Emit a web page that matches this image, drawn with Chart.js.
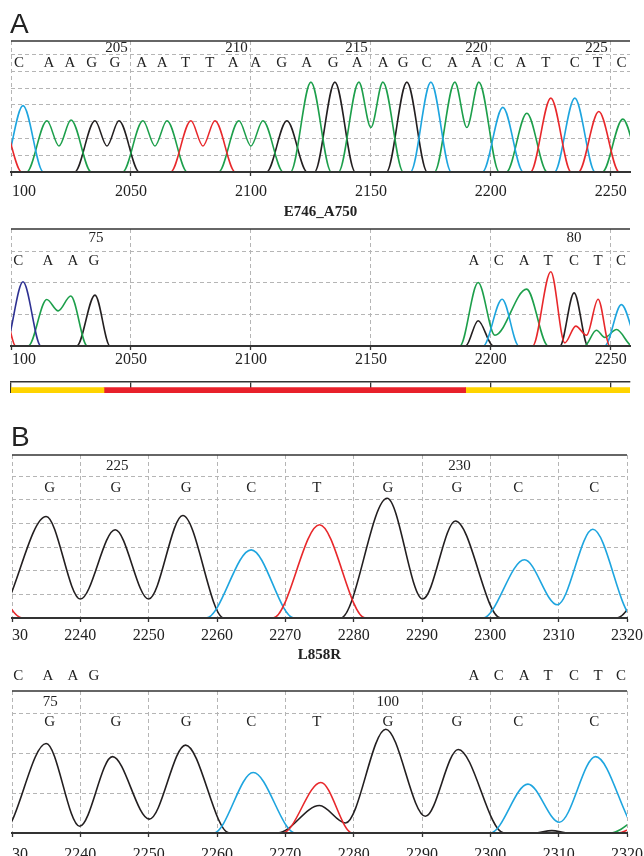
<!DOCTYPE html>
<html>
<head>
<meta charset="utf-8">
<script src="https://cdn.jsdelivr.net/npm/chart.js@4.4.1/dist/chart.umd.min.js"></script>
<style>
  body { margin: 0; background: #fff; width: 644px; height: 856px; position: relative; overflow: hidden; }
  .box { position: absolute; left: 0; width: 644px; }
</style>
</head>
<body>
<div class="box" style="top:0;height:222px"><canvas id="chartA1"></canvas></div>
<div class="box" style="top:222px;height:150px"><canvas id="chartA2"></canvas></div>
<div class="box" style="top:376px;height:20px"><canvas id="chartBar"></canvas></div>
<div class="box" style="top:418px;height:248px"><canvas id="chartB1"></canvas></div>
<div class="box" style="top:666px;height:190px"><canvas id="chartB2"></canvas></div>
<script>
// trace colours: A green, C blue, G black, T red
const GREEN = '#1d9f4b', BLUE = '#1ea5df', BLACK = '#231f20', RED = '#e8282b', NAVY = '#2e3192';

const aTickLabels = ['100', '2050', '2100', '2150', '2200', '2250'];
const bTickLabels = ['2230', '2240', '2250', '2260', '2270', '2280', '2290', '2300', '2310', '2320'];

// panel A, wild type read
const a1Bases = ['C','A','A','G','G','A','A','T','T','A','A','G','A','G','A','A','G','C','A','A','C','A','T','C','T','C'];
const a1BasePos = [2003.3, 2015.8, 2024.6, 2033.6, 2043.3, 2054.5, 2063, 2072.8, 2082.9, 2092.6, 2102, 2112.8, 2123.2,
                   2134.3, 2144.3, 2155.1, 2163.5, 2173.2, 2184, 2194, 2203.3, 2212.5, 2222.9, 2235, 2244.5, 2254.5];
const a1Numbers = ['205', '210', '215', '220', '225'];
const a1NumberPos = [2044, 2094, 2144, 2194, 2244];
const a1Red = [[1980,0],[1996,3.05],[2004.5,0],[2066.5,0],[2075,3.05],[2080,1.55],[2085,3.05],[2093.5,0],
               [2216.5,0],[2225,4.4],[2233.5,0],[2236.5,0],[2245,3.6],[2253.5,0],[2270,0]];
const a1Blue = [[1985,0],[1996.5,0],[2005,3.95],[2013.5,0],[2166.5,0],[2175,5.35],[2183.5,0],[2196.5,0],
                [2205,3.85],[2213.5,0],[2226.5,0],[2235,4.4],[2243.5,0],[2270,0]];
const a1Green = [[1985,0],[2006.5,0],[2015,3.05],[2020,1.55],[2025,3.1],[2033.5,0],[2046.5,0],[2055,3.05],
                 [2060,1.55],[2065,3.05],[2073.5,0],[2086.5,0],[2095,3.05],[2100,1.55],[2105,3.05],[2113.5,0],
                 [2116.5,0],[2125,5.35],[2133.5,0],[2136.5,0],[2145,5.35],[2150,2.65],[2155,5.35],[2163.5,0],
                 [2176.5,0],[2185,5.35],[2190,2.65],[2195,5.35],[2203.5,0],[2206.5,0],[2215,3.5],[2223.5,0],
                 [2246.5,0],[2255,3.15],[2263.5,0],[2270,0]];
const a1Black = [[1985,0],[2026.5,0],[2035,3.05],[2040,1.55],[2045,3.05],[2053.5,0],[2106.5,0],[2115,3.05],
                 [2123.5,0],[2126.5,0],[2135,5.35],[2143.5,0],[2156.5,0],[2165,5.35],[2173.5,0],[2270,0]];

// panel A, E746_A750 deletion read
const a2Bases = ['C','A','A','G','A','C','A','T','C','T','C'];
const a2BasePos = [2003, 2015.4, 2025.8, 2034.6, 2192.9, 2203.3, 2213.9, 2223.9, 2234.7, 2244.7, 2254.2];
const a2Numbers = ['75', '80'];
const a2NumberPos = [2035.4, 2234.7];
const a2Red = [[1985,0],[1996.5,1.3],[2002,0],[2217.4,0],[2225,2.35],[2230.8,0.1],[2235.4,0.63],[2239.9,0.34],
               [2244.7,1.48],[2249.6,0],[2270,0]];
const a2Navy = [[1985,0],[1997.5,0],[2005,2.03],[2012.5,0],[2270,0]];
const a2Green = [[1985,0],[2007.2,0],[2014.9,1.47],[2019.7,1.11],[2024.9,1.58],[2031.8,0],[2187.1,0],[2194.7,2.01],
                 [2201.7,0.34],[2214.9,1.8],[2223.9,0],[2239,0],[2244,0.5],[2247.5,0.27],[2252.4,0.52],[2259,0],[2270,0]];
const a2Black = [[1985,0],[2027.4,0],[2035,1.61],[2041.3,0],[2189.5,0],[2194.7,0.8],[2201,0],[2228.8,0],
                 [2234.7,1.68],[2240.5,0],[2270,0]];
const a2Blue = [[2185,0],[2196.8,0],[2204.7,1.48],[2211.7,0],[2247.5,0],[2254.4,1.31],[2262,0],[2270,0]];

// deleted region bar
const barSegments = [[2000, 2038.75], [2038.75, 2189.5], [2189.5, 2258]];
const barColors = ['#ffd400', '#e8202a', '#ffd400'];

// panel B, L858R
const bBases = ['G','G','G','C','T','G','G','C','C'];
const bBasePos = [2235.5, 2245.2, 2255.5, 2265, 2274.6, 2285, 2295.1, 2304.1, 2315.2];
const b1Numbers = ['225', '230'];
const b1NumberPos = [2245.4, 2295.5];
const b1Red = [[2215,0],[2225,2.5],[2231.5,0],[2268.2,0],[2275,3.94],[2281.7,0],[2330,0]];
const b1Black = [[2215,0],[2227.5,0],[2235,4.29],[2240,0.8],[2245.1,3.73],[2250,0.8],[2255,4.33],[2261,0],
                 [2278.1,0],[2284.9,5.06],[2290.1,0.8],[2294.9,4.1],[2301.5,0],[2318.5,0],[2325,2.5],[2330,0]];
const b1Blue = [[2240,0],[2258.4,0],[2265,2.88],[2271.3,0],[2298.9,0],[2305,2.46],[2309.8,0.56],[2315,3.75],
                [2321,0],[2330,0]];

const b2Numbers = ['75', '100'];
const b2NumberPos = [2235.6, 2285];
const b2Black = [[2215,0],[2228.5,0],[2235,2.25],[2239.9,0.17],[2244.7,1.92],[2250.1,0.35],[2255.4,2.21],[2261.8,0],
                 [2268.9,0],[2275,0.69],[2278.8,0.25],[2284.7,2.61],[2290.5,0.42],[2295.3,2.1],[2302,0],
                 [2306.4,0],[2309,0.06],[2311.5,0],[2330,0]];
const b2Blue = [[2240,0],[2259.5,0],[2265.3,1.52],[2271.5,0],[2300,0],[2305.5,1.23],[2310.1,0.27],[2315.4,1.92],
                [2322,0],[2330,0]];
const b2Red = [[2250,0],[2269.6,0],[2275.2,1.27],[2279.8,0],[2318.6,0],[2324,0.4],[2330,0]];
const b2Green = [[2300,0],[2317.5,0],[2324,0.6],[2330,0]];

const SERIF = '"Liberation Serif", "DejaVu Serif", serif';

function textPlugin(cfg) {
    return {
        id: 'seqText',
        afterDraw(chart) {
            const { ctx, chartArea: area, scales: { x, y } } = chart;
            ctx.save();
            // solid frame line on top
            ctx.strokeStyle = '#333';
            ctx.lineWidth = 1.5;
            ctx.beginPath();
            ctx.moveTo(area.left, area.top);
            ctx.lineTo(area.right, area.top);
            ctx.stroke();

            ctx.fillStyle = '#222';
            ctx.textAlign = 'center';
            ctx.textBaseline = 'middle';
            ctx.font = '15px ' + SERIF;
            cfg.bases.forEach((b, i) => ctx.fillText(b, x.getPixelForValue(cfg.basePos[i]), y.getPixelForValue(cfg.baseY)));
            cfg.numbers.forEach((n, i) => ctx.fillText(n, x.getPixelForValue(cfg.numberPos[i]), y.getPixelForValue(cfg.numberY)));

            // letters of the other read, above the frame
            if (cfg.extra) {
                const ex = cfg.extra.chart.scales.x;
                cfg.extra.bases.forEach((b, i) => ctx.fillText(b, ex.getPixelForValue(cfg.extra.pos[i]), y.getPixelForValue(cfg.extra.y)));
            }

            // tick labels, cut at the left edge of the plot
            ctx.save();
            ctx.beginPath();
            ctx.rect(area.left, 0, chart.width, chart.height);
            ctx.clip();
            ctx.font = '16px ' + SERIF;
            x.ticks.forEach((t, i) => {
                const px = x.getPixelForValue(t.value);
                ctx.textAlign = (i === 0 && cfg.firstLeft) ? 'left' : 'center';
                ctx.fillText(cfg.tickLabels[i], i === 0 && cfg.firstLeft ? px + 1 : px, area.bottom + cfg.tickOffset);
            });
            ctx.restore();

            if (cfg.title) {
                ctx.font = 'bold 15px ' + SERIF;
                ctx.textAlign = 'center';
                ctx.fillText(cfg.title, (area.left + area.right) / 2, area.bottom + cfg.titleOffset);
            }
            if (cfg.panel) {
                ctx.font = '28px "Liberation Sans", Arial, sans-serif';
                ctx.textAlign = 'left';
                ctx.fillText(cfg.panel, area.left - 1, cfg.panelY);
            }
            ctx.restore();
        }
    };
}

function traceChart(id, cfg) {
    return new Chart(id, {
        type: 'line',
        data: {
            datasets: cfg.traces.map(t => ({
                data: t[0],
                borderColor: t[1],
                borderWidth: 1.6,
                pointRadius: 0,
                fill: false,
                cubicInterpolationMode: 'monotone'
            }))
        },
        options: {
            responsive: true,
            maintainAspectRatio: false,
            animation: false,
            events: [],
            layout: { padding: cfg.padding },
            plugins: { legend: { display: false }, tooltip: { enabled: false } },
            scales: {
                x: {
                    type: 'linear',
                    min: cfg.xMin,
                    max: cfg.xMax,
                    ticks: { display: false, stepSize: cfg.step, includeBounds: false },
                    grid: { color: '#b5b5b5', lineWidth: 1, tickLength: 4, tickColor: '#333', tickWidth: 1.3 },
                    border: { display: true, color: '#333', width: 2, dash: [4, 3], z: 1 }
                },
                y: {
                    min: 0,
                    max: cfg.yMax,
                    ticks: { display: false, stepSize: 1, includeBounds: false },
                    grid: { color: '#b5b5b5', lineWidth: 1, drawTicks: false },
                    border: { display: false, dash: [4, 3] }
                }
            }
        },
        plugins: [textPlugin(cfg)]
    });
}

const chartA1 = traceChart('chartA1', {
    xMin: 2000, xMax: 2258, step: 50, yMax: 7.8,
    padding: { top: 41, bottom: 46, left: 11, right: 14 },
    traces: [[a1Red, RED], [a1Blue, BLUE], [a1Green, GREEN], [a1Black, BLACK]],
    bases: a1Bases, basePos: a1BasePos, baseY: 6.5,
    numbers: a1Numbers, numberPos: a1NumberPos, numberY: 7.35,
    tickLabels: aTickLabels, tickOffset: 19.5, firstLeft: true,
    title: 'E746_A750', titleOffset: 40,
    panel: 'A', panelY: 25
});

const chartA2 = traceChart('chartA2', {
    xMin: 2000, xMax: 2258, step: 50, yMax: 3.7,
    padding: { top: 7, bottom: 22, left: 11, right: 14 },
    traces: [[a2Red, RED], [a2Navy, NAVY], [a2Blue, BLUE], [a2Green, GREEN], [a2Black, BLACK]],
    bases: a2Bases, basePos: a2BasePos, baseY: 2.7,
    numbers: a2Numbers, numberPos: a2NumberPos, numberY: 3.41,
    tickLabels: aTickLabels, tickOffset: 14, firstLeft: true
});

new Chart('chartBar', {
    type: 'bar',
    data: {
        labels: ['', 'deletion'],
        datasets: barSegments.map((seg, i) => ({
            data: [null, seg],
            backgroundColor: barColors[i],
            grouped: false,
            barPercentage: 1,
            categoryPercentage: 1
        }))
    },
    options: {
        indexAxis: 'y',
        responsive: true,
        maintainAspectRatio: false,
        animation: false,
        events: [],
        layout: { padding: { top: 6, bottom: 3, left: 11, right: 14 } },
        plugins: { legend: { display: false }, tooltip: { enabled: false } },
        scales: {
            x: {
                type: 'linear',
                position: 'top',
                min: 2000,
                max: 2258,
                ticks: { display: false, stepSize: 50, includeBounds: false },
                grid: { color: '#333', lineWidth: 1.3, drawTicks: false },
                border: { display: true, color: '#333', width: 1.5 }
            },
            y: { display: false }
        }
    }
});

const chartB1 = traceChart('chartB1', {
    xMin: 2230, xMax: 2320, step: 10, yMax: 6.89,
    padding: { top: 37, bottom: 44, left: 12, right: 17 },
    traces: [[b1Red, RED], [b1Blue, BLUE], [b1Black, BLACK]],
    bases: bBases, basePos: bBasePos, baseY: 5.51,
    numbers: b1Numbers, numberPos: b1NumberPos, numberY: 6.43,
    tickLabels: bTickLabels, tickOffset: 18, firstLeft: false,
    title: 'L858R', titleOffset: 37.5,
    panel: 'B', panelY: 20
});

const chartB2 = traceChart('chartB2', {
    xMin: 2230, xMax: 2320, step: 10, yMax: 3.57,
    padding: { top: 25, bottom: 19, left: 12, right: 17 },
    traces: [[b2Green, GREEN], [b2Red, RED], [b2Blue, BLUE], [b2Black, BLACK]],
    bases: bBases, basePos: bBasePos, baseY: 2.79,
    numbers: b2Numbers, numberPos: b2NumberPos, numberY: 3.29,
    tickLabels: bTickLabels, tickOffset: 22, firstLeft: false,
    extra: { chart: chartA2, bases: a2Bases, pos: a2BasePos, y: 3.95 }
});
</script>
</body>
</html>
